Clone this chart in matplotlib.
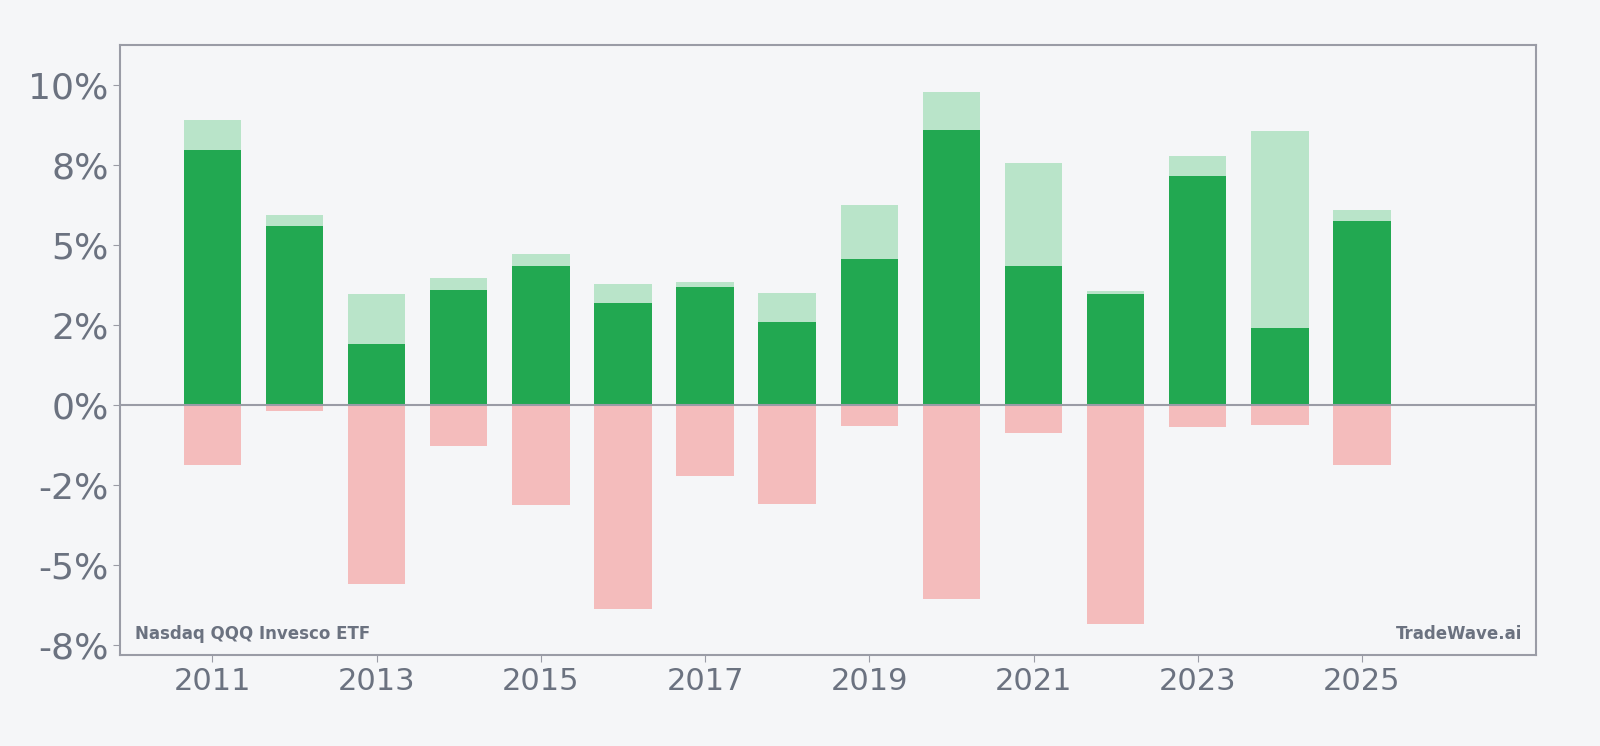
import matplotlib
matplotlib.use("Agg")
import matplotlib.pyplot as plt
from matplotlib.ticker import FuncFormatter, MultipleLocator

BG       = "#f5f6f8"
DARK_GRN = "#22a851"
LITE_GRN = "#b9e4c9"
PINK     = "#f4bcbc"
SPINE    = "#9a9ca6"
TEXT     = "#6b7280"

years = [2011, 2012, 2013, 2014, 2015, 2016, 2017, 2018,
         2019, 2020, 2021, 2022, 2023, 2024, 2025]
# 연간 수익(진한), 고점(연한), 저점(분홍) - %
close_ret = [7.96, 5.57, 1.91, 3.60, 4.33, 3.18, 3.69, 2.58,
             4.55, 8.57, 4.33, 3.47, 7.13, 2.39, 5.73]
high_ret  = [8.89, 5.92, 3.47, 3.95, 4.71, 3.76, 3.85, 3.50,
             6.24, 9.78, 7.55, 3.57, 7.77, 8.54, 6.08]
low_ret   = [-1.88, -0.19, -5.57, -1.27, -3.12, -6.37, -2.23, -3.09,
             -0.67, -6.05, -0.86, -6.82, -0.70, -0.61, -1.88]
tick_years = years[::2]

fig = plt.figure(figsize=(16, 7.46), dpi=100, facecolor=BG)
ax = fig.add_axes([0.0753, 0.122, 0.8847, 0.818])
ax.set_facecolor(BG)

w = 0.7
extra = [h - c for h, c in zip(high_ret, close_ret)]
ax.bar(years, low_ret, width=w, color=PINK, zorder=2)
ax.bar(years, close_ret, width=w, color=DARK_GRN, zorder=2)
ax.bar(years, extra, width=w, bottom=close_ret, color=LITE_GRN, zorder=2)

ax.axhline(0, color=SPINE, linewidth=1.5, zorder=3)

ax.set_xlim(2009.88, 2027.12)
ax.set_ylim(-7.8, 11.24)
ax.set_xticks(tick_years)
ax.set_xticklabels([str(y) for y in tick_years])
ax.yaxis.set_major_locator(MultipleLocator(2.5))
ax.yaxis.set_major_formatter(FuncFormatter(lambda v, p: f"{v:.0f}%"))
ax.tick_params(axis="y", labelsize=26, colors=SPINE, labelcolor=TEXT, length=5)
ax.tick_params(axis="x", labelsize=22, colors=SPINE, labelcolor=TEXT, length=5)

for s in ax.spines.values():
    s.set_color(SPINE)
    s.set_linewidth(1.5)

ax.text(0.01, 0.02, "Nasdaq QQQ Invesco ETF", transform=ax.transAxes,
        fontsize=12, fontweight="bold", color=TEXT, ha="left", va="bottom")
ax.text(0.99, 0.02, "TradeWave.ai", transform=ax.transAxes,
        fontsize=12, fontweight="bold", color=TEXT, ha="right", va="bottom")

fig.savefig("out.png", dpi=100, facecolor=BG)
